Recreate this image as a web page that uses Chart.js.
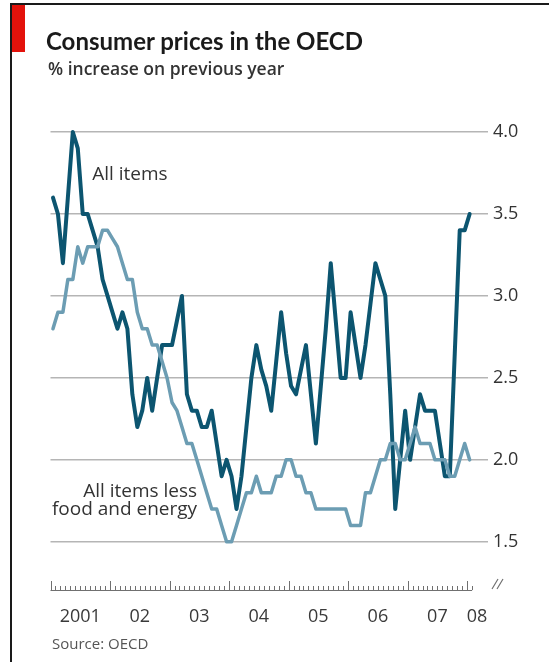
<!DOCTYPE html>
<html>
<head>
<meta charset="utf-8">
<title>Consumer prices in the OECD</title>
<script src="https://cdn.jsdelivr.net/npm/chart.js@4.4.1/dist/chart.umd.min.js"></script>
<style>
  html, body { margin: 0; padding: 0; background: #fff; }
  #wrap { position: relative; width: 549px; height: 662px; overflow: hidden; background: #fff; }
  #c { position: absolute; left: 0; top: 0; }
  #frame { position: absolute; left: 10px; top: 3px; width: 600px; height: 700px;
           border-top: 2px solid #1a1a1a; border-left: 2px solid #1a1a1a; }
  #tag { position: absolute; left: 12px; top: 5px; width: 13px; height: 47px; background: #e3120b; }
  .txt { position: absolute; white-space: nowrap; line-height: 1.2; }
  #title { left: 46px; top: 26px; font: 700 24px Lato, "Open Sans", sans-serif; color: #1a1a1a; }
  #subtitle { left: 48px; top: 56px; font: 600 17.5px "Open Sans", sans-serif; color: #333; }
  #source { left: 52px; top: 633px; font: 400 15px "Open Sans", sans-serif; color: #555; }
</style>
</head>
<body>
<div id="wrap">
  <canvas id="c" width="549" height="662"></canvas>
  <div id="frame"></div>
  <div id="tag"></div>
  <div id="title" class="txt">Consumer prices in the OECD</div>
  <div id="subtitle" class="txt">% increase on previous year</div>
  <div id="source" class="txt">Source: OECD</div>
</div>
<script>
// Monthly year-on-year inflation, January 2001 to January 2008 (%)
const allItems = [
  3.6, 3.5, 3.2, 3.6, 4.0, 3.9, 3.5, 3.5, 3.4, 3.3, 3.1, 3.0,     // 2001
  2.9, 2.8, 2.9, 2.8, 2.4, 2.2, 2.3, 2.5, 2.3, 2.5, 2.7, 2.7,     // 2002
  2.7, 2.85, 3.0, 2.4, 2.3, 2.3, 2.2, 2.2, 2.3, 2.1, 1.9, 2.0,    // 2003
  1.9, 1.7, 1.9, 2.2, 2.5, 2.7, 2.55, 2.45, 2.3, 2.6, 2.9, 2.65,  // 2004
  2.45, 2.4, 2.55, 2.7, 2.4, 2.1, 2.45, 2.8, 3.2, 2.85, 2.5, 2.5, // 2005
  2.9, 2.7, 2.5, 2.7, 2.95, 3.2, 3.1, 3.0, 2.4, 1.7, 2.0, 2.3,    // 2006
  2.0, 2.2, 2.4, 2.3, 2.3, 2.3, 2.1, 1.9, 1.9, 2.65, 3.4, 3.4,    // 2007
  3.5                                                             // 2008
];
const lessFoodEnergy = [
  2.8, 2.9, 2.9, 3.1, 3.1, 3.3, 3.2, 3.3, 3.3, 3.3, 3.4, 3.4,     // 2001
  3.35, 3.3, 3.2, 3.1, 3.1, 2.9, 2.8, 2.8, 2.7, 2.7, 2.6, 2.5,    // 2002
  2.35, 2.3, 2.2, 2.1, 2.1, 2.0, 1.9, 1.8, 1.7, 1.7, 1.6, 1.5,    // 2003
  1.5, 1.6, 1.7, 1.8, 1.8, 1.9, 1.8, 1.8, 1.8, 1.9, 1.9, 2.0,     // 2004
  2.0, 1.9, 1.9, 1.8, 1.8, 1.7, 1.7, 1.7, 1.7, 1.7, 1.7, 1.7,     // 2005
  1.6, 1.6, 1.6, 1.8, 1.8, 1.9, 2.0, 2.0, 2.1, 2.1, 2.0, 2.0,     // 2006
  2.1, 2.2, 2.1, 2.1, 2.1, 2.0, 2.0, 2.0, 1.9, 1.9, 2.0, 2.1,     // 2007
  2.0                                                             // 2008
];
const seriesNames = ['All items', 'All items less food and energy'];
const yearLabels = ['2001', '02', '03', '04', '05', '06', '07', '08'];
const yTicks = [1.5, 2.0, 2.5, 3.0, 3.5, 4.0];

// x values are month indices (0 = January 2001); each year begins half a month before its January
const yearStart = k => k * 12 - 0.5;
const yearLabelPos = yearLabels.map((_, k) =>
  k < yearLabels.length - 1 ? yearStart(k) + 6 : yearStart(k) + 2);
const toPoints = arr => arr.map((v, i) => ({ x: i, y: v }));

const FONT = '"Open Sans", sans-serif';

// Baseline with monthly tick marks pointing up, taller marks at each new year, plus an axis break sign
const monthAxis = {
  id: 'monthAxis',
  afterDraw(chart) {
    const { ctx, chartArea, scales: { x } } = chart;
    const base = chartArea.bottom - 1;
    const n = allItems.length;
    ctx.save();
    ctx.strokeStyle = '#707070';
    ctx.lineWidth = 1;
    ctx.beginPath();
    ctx.moveTo(x.getPixelForValue(-0.5), base + 0.5);
    ctx.lineTo(x.getPixelForValue(n - 0.5), base + 0.5);
    for (let m = 0; m <= n; m++) {
      const px = Math.round(x.getPixelForValue(m - 0.5)) + 0.5;
      const h = m % 12 === 0 ? 9 : 4;
      ctx.moveTo(px, base);
      ctx.lineTo(px, base - h);
    }
    ctx.stroke();
    // axis break
    const bx = chartArea.right + 4;
    ctx.lineWidth = 1.2;
    ctx.beginPath();
    ctx.moveTo(bx, base - 1); ctx.lineTo(bx + 6, base - 11);
    ctx.moveTo(bx + 5, base - 1); ctx.lineTo(bx + 11, base - 11);
    ctx.stroke();
    ctx.restore();
  }
};

// Series names written beside their lines
const seriesLabels = {
  id: 'seriesLabels',
  afterDatasetsDraw(chart) {
    const { ctx, scales: { x, y } } = chart;
    ctx.save();
    ctx.font = '19px ' + FONT;
    ctx.fillStyle = '#333';
    ctx.textBaseline = 'alphabetic';
    ctx.textAlign = 'left';
    ctx.fillText(seriesNames[0], x.getPixelForValue(7.9), y.getPixelForValue(3.707));
    ctx.textAlign = 'right';
    const rx = x.getPixelForValue(29.05);
    ctx.fillText('All items less', rx, y.getPixelForValue(1.774));
    ctx.fillText('food and energy', rx, y.getPixelForValue(1.665));
    ctx.restore();
  }
};

new Chart(document.getElementById('c'), {
  type: 'line',
  data: {
    datasets: [
      {
        label: seriesNames[1],
        data: toPoints(lessFoodEnergy),
        borderColor: '#6c9db3',
        borderWidth: 3.5,
        pointRadius: 0,
        tension: 0,
        clip: false,
        borderJoinStyle: 'round',
        borderCapStyle: 'round'
      },
      {
        label: seriesNames[0],
        data: toPoints(allItems),
        borderColor: '#0c5570',
        borderWidth: 4,
        pointRadius: 0,
        tension: 0,
        clip: false,
        borderJoinStyle: 'round',
        borderCapStyle: 'round'
      }
    ]
  },
  options: {
    responsive: false,
    animation: false,
    devicePixelRatio: 1,
    layout: { padding: { left: 50.5, top: 132, right: 0, bottom: 0 } },
    plugins: { legend: { display: false }, tooltip: { enabled: false } },
    scales: {
      x: {
        type: 'linear',
        min: -0.5,
        max: 87.7,
        afterBuildTicks: s => { s.ticks = yearLabelPos.map(v => ({ value: v })); },
        afterFit: s => { s.height = 71; },
        grid: { display: false, drawTicks: false },
        border: { display: false },
        ticks: {
          autoSkip: false, maxRotation: 0, minRotation: 0, padding: 15,
          font: { family: FONT, size: 18 }, color: '#3a3a3a',
          callback: (v, i) => yearLabels[i]
        }
      },
      y: {
        position: 'right',
        min: 1.2,
        max: 4.0,
        afterBuildTicks: s => { s.ticks = yTicks.map(v => ({ value: v })); },
        afterFit: s => { s.width = 61; },
        grid: { color: '#b5b5b5', lineWidth: 1.6, drawTicks: false },
        border: { display: false },
        ticks: {
          padding: 5,
          font: { family: FONT, size: 18 }, color: '#333',
          callback: v => v.toFixed(1)
        }
      }
    }
  },
  plugins: [monthAxis, seriesLabels]
});
</script>
</body>
</html>
